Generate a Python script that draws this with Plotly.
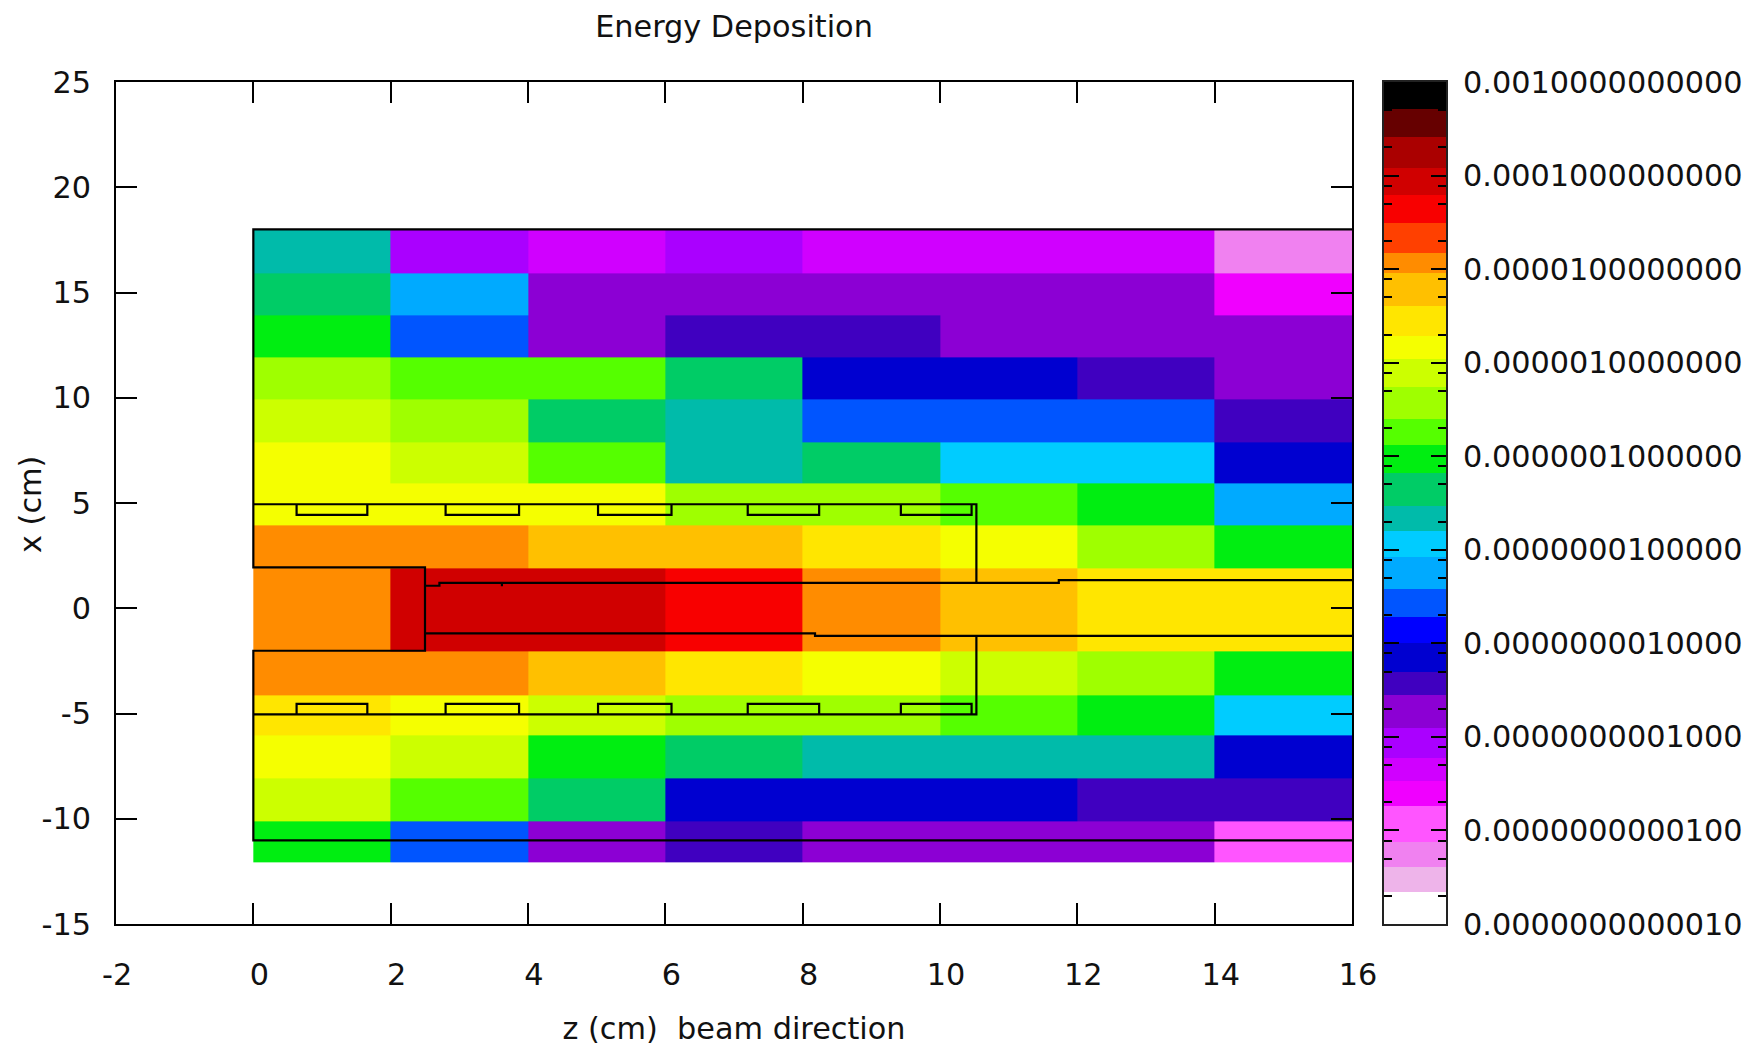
import numpy as np
import plotly.graph_objects as go

# ---------- data ----------
z_edges = [0, 2, 4, 6, 8, 10, 12, 14, 16]
x_edges = [18.0, 15.92, 13.9, 11.93, 9.91, 7.89, 5.92, 3.92, 1.88, 0, -2.07, -4.13, -6.04, -8.09, -10.13, -12.06]
energy = [
    [2.2e-8, 8.5e-11, 4.5e-11, 8.5e-11, 4.5e-11, 4.5e-11, 4.5e-11, 5.6e-12],
    [4.5e-8, 5.8e-9, 1.9e-10, 1.9e-10, 1.9e-10, 1.9e-10, 1.9e-10, 2.5e-11],
    [9.3e-8, 2.7e-9, 1.9e-10, 3.7e-10, 3.7e-10, 1.9e-10, 1.9e-10, 1.9e-10],
    [3.7e-7, 1.8e-7, 1.8e-7, 4.5e-8, 7e-10, 7e-10, 3.7e-10, 1.9e-10],
    [7.8e-7, 3.7e-7, 4.5e-8, 2.2e-8, 2.7e-9, 2.7e-9, 2.7e-9, 3.7e-10],
    [1.45e-6, 7.8e-7, 1.8e-7, 2.2e-8, 4.5e-8, 1.2e-8, 1.2e-8, 7e-10],
    [1.45e-6, 1.45e-6, 1.45e-6, 3.7e-7, 3.7e-7, 1.8e-7, 9.3e-8, 5.8e-9],
    [1.15e-5, 1.15e-5, 6e-6, 6e-6, 2.8e-6, 1.45e-6, 3.7e-7, 9.3e-8],
    [1.15e-5, 8.7e-5, 8.7e-5, 4.5e-5, 1.15e-5, 6e-6, 2.8e-6, 2.8e-6],
    [1.15e-5, 8.7e-5, 8.7e-5, 4.5e-5, 1.15e-5, 6e-6, 2.8e-6, 2.8e-6],
    [1.15e-5, 1.15e-5, 6e-6, 2.8e-6, 1.45e-6, 7.8e-7, 3.7e-7, 9.3e-8],
    [2.8e-6, 1.45e-6, 7.8e-7, 3.7e-7, 3.7e-7, 1.8e-7, 9.3e-8, 1.2e-8],
    [1.45e-6, 7.8e-7, 9.3e-8, 4.5e-8, 2.2e-8, 2.2e-8, 2.2e-8, 7e-10],
    [7.8e-7, 1.8e-7, 4.5e-8, 7e-10, 7e-10, 7e-10, 3.7e-10, 3.7e-10],
    [9.3e-8, 2.7e-9, 1.9e-10, 3.7e-10, 1.9e-10, 1.9e-10, 1.9e-10, 1.2e-11],
]

# geometry outlines (z, x)
frame_z = [16, 0, 0, 2.5, 2.5, 0, 0, 16]
frame_x = [18, 18, 1.94, 1.94, -2.02, -2.02, -11.03, -11.03]
upper_z = [0, 10.53, 10.53]
upper_x = [4.94, 4.94, 1.2]
lower_z = [0, 10.53, 10.53]
lower_x = [-5.04, -5.04, -1.3]
bump_left = [0.63, 2.80, 5.02, 7.2, 9.43]
bump_right = [1.66, 3.87, 6.09, 8.24, 10.46]
bump_upper_x = [4.94, 4.44]
bump_lower_x = [-5.04, -4.54]
tube_top_z = [2.5, 2.71, 2.71, 3.62, 3.62, 3.62, 11.73, 11.73, 16]
tube_top_x = [1.07, 1.07, 1.21, 1.21, 1.05, 1.21, 1.21, 1.34, 1.34]
tube_bot_z = [2.5, 8.18, 8.18, 16]
tube_bot_x = [-1.19, -1.19, -1.31, -1.31]

x_ticks = [-2, 0, 2, 4, 6, 8, 10, 12, 14, 16]
x_tick_text = ["-2\u00a0", "0", "2", "4", "6", "8", "10", "12", "14", "16"]
y_ticks = [-15, -10, -5, 0, 5, 10, 15, 20, 25]
y_tick_text = ["-15", "-10", "-5", "0", "5", "10", "15", "20", "25"]

cb_major = [1e-12, 1e-11, 1e-10, 1e-9, 1e-8, 1e-7, 1e-6, 1e-5, 1e-4, 1e-3]
cb_labels = ["0.0000000000010", "0.0000000000100", "0.0000000001000", "0.0000000010000",
             "0.0000000100000", "0.0000001000000", "0.0000010000000", "0.0000100000000",
             "0.0001000000000", "0.0010000000000"]
cb_minor_mantissa = [2, 5, 7.8]

# palette band limits (log10 of energy), bottom to top
band_edges = [-12, -11.657, -11.39, -11.121, -10.737, -10.473, -10.229, -9.906, -9.554, -9.309,
              -8.992, -8.715, -8.416, -8.072, -7.798, -7.528, -7.176, -6.881, -6.603, -6.259,
              -5.964, -5.719, -5.399, -5.044, -4.83, -4.503, -4.205, -3.914, -3.583, -3.288, -3]
band_colors = ["#ffffff", "#eeb4ea", "#f081f0", "#ff55ff", "#f000ff", "#d000ff", "#aa00ff", "#8c00d4",
               "#4000c0", "#0000d0", "#0000ff", "#0055ff", "#00aaff", "#00ccff", "#00bbaa", "#00cc66",
               "#00ee11", "#55ff00", "#9fff00", "#ccff00", "#f5ff00", "#ffe600", "#ffc000", "#ff8c00",
               "#ff4000", "#f80000", "#d00000", "#aa0000", "#660000", "#000000"]

# ---------- layout constants ----------
W, H = 1760, 1046
FS = 30.3
FONT = "DejaVu Sans"
TXT = "#111111"
ZMIN, ZMAX = -12, -3
L, R, T, B = 116, 1446, 82, 924
PW = R - L

scale = []
for i, c in enumerate(band_colors):
    scale.append([(band_edges[i] - ZMIN) / (ZMAX - ZMIN), c])
    scale.append([(band_edges[i + 1] - ZMIN) / (ZMAX - ZMIN), c])

fig = go.Figure()
fig.add_trace(go.Heatmap(
    x=z_edges, y=x_edges[::-1], z=np.log10(np.array(energy))[::-1],
    zmin=ZMIN, zmax=ZMAX, colorscale=scale, showscale=False, hoverinfo="skip",
))

def outline(zs, xs):
    fig.add_trace(go.Scatter(x=zs, y=xs, mode="lines", showlegend=False, hoverinfo="skip",
                             line=dict(color="black", width=2.2)))

for zs, xs in [(frame_z, frame_x), (upper_z, upper_x), (lower_z, lower_x),
               (tube_top_z, tube_top_x), (tube_bot_z, tube_bot_x)]:
    outline(zs, xs)
for levels in (bump_upper_x, bump_lower_x):
    for a, b in zip(bump_left, bump_right):
        outline([a, a, b, b], [levels[0], levels[1], levels[1], levels[0]])

# palette strip
edge_vals = [10.0 ** e for e in band_edges]
mids = [[(band_edges[i] + band_edges[i + 1]) / 2] for i in range(len(band_colors))]
fig.add_trace(go.Heatmap(
    x=[0, 1], y=edge_vals, z=mids, zmin=ZMIN, zmax=ZMAX, colorscale=scale,
    showscale=False, hoverinfo="skip", xaxis="x2", yaxis="y2",
))

minor_vals = [m * d for d in cb_major[:-1] for m in cb_minor_mantissa]

tickfont = dict(family=FONT, size=FS, color=TXT)
titlefont = dict(family=FONT, size=FS, color=TXT)
fig.update_layout(
    width=W, height=H, margin=dict(l=L, r=W - R, t=T, b=H - B, autoexpand=False),
    paper_bgcolor="white", plot_bgcolor="white", showlegend=False,
    font=dict(family=FONT, size=FS, color=TXT),
    title=dict(text="Energy Deposition", x=734 / W, xanchor="center", xref="container",
               y=1 - 26 / H, yanchor="middle", yref="container", font=titlefont),
    xaxis=dict(domain=[0, (1352 - L) / PW], range=[-2, 16], tickvals=x_ticks, ticktext=x_tick_text,
               ticks="inside", ticklen=21, tickwidth=2, tickcolor="black", showline=True, linewidth=2,
               linecolor="black", mirror="allticks", showgrid=False, zeroline=False, tickfont=tickfont,
               ticklabelshift=6, ticklabelstandoff=23, automargin=False,
               title=dict(text="z (cm)  beam direction", standoff=27, font=titlefont), anchor="y"),
    yaxis=dict(domain=[0, 1], range=[-15, 25], tickvals=y_ticks, ticktext=y_tick_text,
               ticks="inside", ticklen=21, tickwidth=2, tickcolor="black", showline=True, linewidth=2,
               linecolor="black", mirror="allticks", showgrid=False, zeroline=False, tickfont=tickfont,
               ticklabelstandoff=17, automargin=False, anchor="x"),
    xaxis2=dict(domain=[(1384 - L) / PW, 1], range=[0, 1], showticklabels=False, ticks="", showgrid=False,
                zeroline=False, showline=True, linewidth=2, linecolor="#222222", mirror=True, anchor="y2",
                automargin=False),
    yaxis2=dict(domain=[0, 1], type="log", range=[-12, -3], side="right", anchor="x2",
                tickvals=cb_major, ticktext=cb_labels, ticks="inside", ticklen=15, tickwidth=2, tickcolor="black",
                showline=True, linewidth=2, linecolor="#222222", mirror="allticks", showgrid=False, zeroline=False,
                tickfont=tickfont, ticklabelstandoff=9, automargin=False,
                minor=dict(tickvals=minor_vals, ticks="inside", ticklen=8, tickwidth=2, tickcolor="black", showgrid=False)),
    annotations=[dict(text="x (cm)", xref="paper", yref="paper", x=(30 - L) / PW, y=(B - 505) / (B - T),
                      xanchor="center", yanchor="middle", textangle=-90, showarrow=False, font=titlefont)],
)

fig.write_html("out.html", config={"displayModeBar": False},
               post_script="document.body.style.margin='0';document.documentElement.style.overflow='hidden';")
